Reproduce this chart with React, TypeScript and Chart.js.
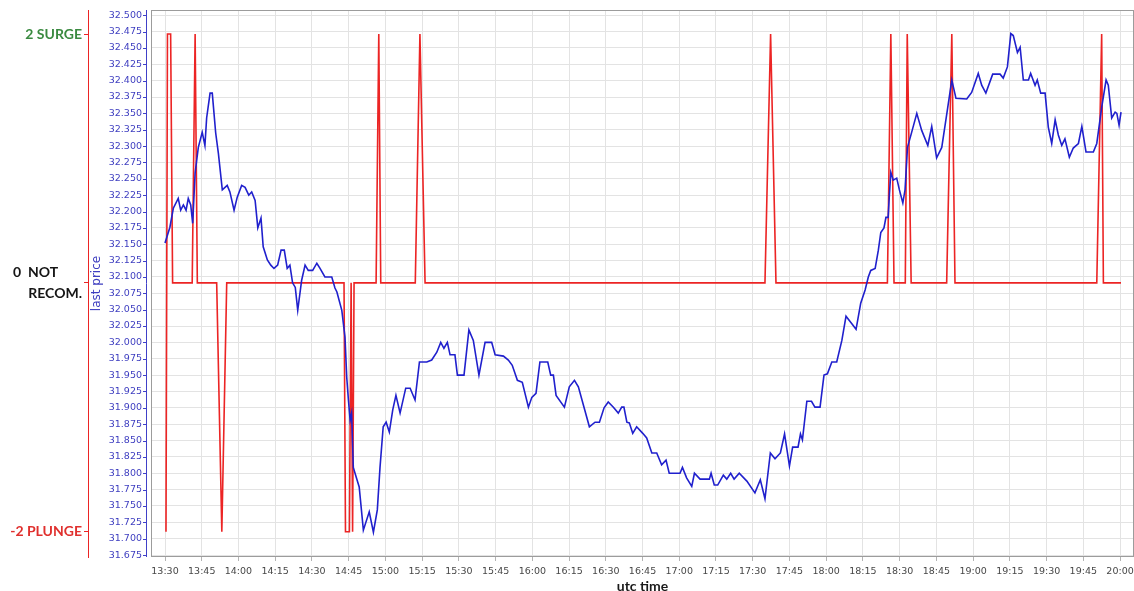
import React, { useEffect, useRef } from 'react';
import { Chart, registerables } from 'chart.js';

Chart.register(...registerables);

// minutes after 13:30 UTC
const blueMinutes = [
  0.0, 2.0, 3.4, 5.4, 6.4, 7.5, 8.6, 9.5, 10.5, 11.3,
  12.3, 13.6, 15.2, 16.3, 17.0, 18.4, 19.3, 20.7, 21.8, 23.4,
  25.4, 26.5, 28.2, 29.5, 31.3, 32.7, 34.2, 35.4, 36.8, 37.9,
  39.2, 40.1, 41.8, 43.2, 44.5, 46.0, 47.4, 48.7, 49.9, 51.0,
  52.1, 53.2, 54.2, 55.8, 57.2, 58.5, 60.3, 62.0, 63.3, 65.3,
  68.1, 69.4, 70.2, 72.2, 73.5, 74.2, 74.9, 75.6, 76.2, 76.9,
  77.6, 79.3, 81.0, 83.4, 85.1, 86.7, 87.8, 89.1, 90.3, 91.6,
  93.0, 94.3, 96.0, 98.3, 100.1, 102.1, 103.9, 106.9, 108.9, 111.0,
  112.6, 113.9, 115.3, 116.4, 118.4, 119.4, 122.1, 124.1, 125.9, 128.2,
  130.7, 133.4, 134.8, 138.2, 140.2, 141.8, 143.9, 145.9, 148.4, 149.8,
  151.5, 153.1, 156.3, 157.5, 158.6, 159.7, 163.1, 165.1, 167.2, 168.8,
  171.1, 173.3, 175.6, 177.4, 179.3, 181.0, 183.1, 185.1, 186.5, 187.4,
  188.6, 189.6, 191.0, 192.6, 195.1, 196.7, 198.8, 200.8, 202.8, 204.6,
  205.9, 210.3, 211.3, 213.0, 215.1, 216.2, 218.5, 222.3, 223.0, 224.3,
  225.7, 228.0, 229.4, 231.0, 232.4, 234.5, 237.6, 240.9, 243.1, 245.0,
  247.2, 249.1, 251.3, 253.0, 255.0, 256.3, 258.5, 259.5, 260.3, 262.1,
  264.0, 265.4, 267.5, 269.1, 270.5, 272.3, 274.3, 276.4, 278.1, 280.4,
  282.2, 284.1, 285.9, 287.2, 288.2, 290.0, 291.3, 292.3, 293.6, 294.4,
  295.3, 295.8, 296.4, 297.4, 298.8, 299.9, 301.3, 302.2, 303.2, 304.9,
  307.0, 309.0, 311.5, 313.1, 315.1, 317.2, 319.6, 321.3, 323.0, 327.4,
  329.4, 332.1, 333.5, 335.2, 338.0, 341.0, 342.3, 344.0, 345.4, 346.4,
  348.1, 349.2, 350.5, 352.6, 353.5, 355.3, 356.2, 357.6, 359.4, 360.7,
  362.1, 363.5, 364.8, 366.2, 367.5, 369.3, 370.9, 373.0, 374.4, 376.1,
  379.1, 380.5, 382.5, 384.3, 385.2, 386.6, 388.0, 388.7, 389.6, 390.4,
];

const bluePrices = [
  32.152, 32.176, 32.205, 32.220, 32.202, 32.210, 32.202, 32.220, 32.210, 32.182,
  32.259, 32.298, 32.321, 32.301, 32.343, 32.381, 32.381, 32.320, 32.289, 32.233,
  32.240, 32.230, 32.202, 32.222, 32.240, 32.237, 32.225, 32.230, 32.217, 32.175,
  32.190, 32.146, 32.126, 32.118, 32.113, 32.118, 32.141, 32.141, 32.113, 32.118,
  32.091, 32.084, 32.049, 32.095, 32.118, 32.110, 32.110, 32.121, 32.113, 32.100,
  32.100, 32.083, 32.077, 32.049, 32.008, 31.947, 31.912, 31.881, 31.892, 31.809,
  31.800, 31.779, 31.713, 31.741, 31.710, 31.744, 31.809, 31.871, 31.878, 31.863,
  31.897, 31.919, 31.892, 31.930, 31.930, 31.912, 31.970, 31.970, 31.973, 31.985,
  32.000, 31.991, 32.000, 31.981, 31.981, 31.950, 31.950, 32.019, 32.003, 31.950,
  32.000, 32.000, 31.981, 31.979, 31.973, 31.965, 31.942, 31.939, 31.901, 31.916,
  31.922, 31.970, 31.970, 31.950, 31.950, 31.919, 31.901, 31.932, 31.942, 31.932,
  31.901, 31.871, 31.878, 31.878, 31.900, 31.909, 31.901, 31.892, 31.901, 31.901,
  31.878, 31.877, 31.861, 31.871, 31.861, 31.854, 31.831, 31.831, 31.813, 31.820,
  31.800, 31.800, 31.809, 31.793, 31.780, 31.800, 31.791, 31.791, 31.800, 31.782,
  31.782, 31.797, 31.791, 31.800, 31.791, 31.800, 31.788, 31.770, 31.790, 31.761,
  31.831, 31.822, 31.831, 31.860, 31.811, 31.840, 31.840, 31.860, 31.851, 31.910,
  31.910, 31.901, 31.901, 31.950, 31.952, 31.970, 31.970, 32.003, 32.040, 32.029,
  32.020, 32.060, 32.080, 32.100, 32.110, 32.113, 32.141, 32.168, 32.175, 32.191,
  32.191, 32.225, 32.260, 32.248, 32.251, 32.233, 32.213, 32.233, 32.298, 32.321,
  32.350, 32.324, 32.301, 32.330, 32.282, 32.298, 32.358, 32.401, 32.373, 32.372,
  32.382, 32.411, 32.393, 32.381, 32.410, 32.410, 32.404, 32.421, 32.472, 32.469,
  32.443, 32.451, 32.401, 32.401, 32.411, 32.393, 32.401, 32.381, 32.381, 32.329,
  32.304, 32.340, 32.317, 32.301, 32.311, 32.283, 32.297, 32.304, 32.330, 32.291,
  32.291, 32.304, 32.359, 32.401, 32.393, 32.343, 32.352, 32.350, 32.332, 32.352,
];

const redMinutes = [
  0.4, 1.0, 2.3, 3.1, 11.1, 12.3, 13.2, 21.1, 23.2, 25.2,
  73.1, 73.7, 75.3, 76.0, 76.6, 77.2, 86.2, 87.3, 88.1, 102.2,
  104.1, 106.2, 245.0, 247.3, 249.5, 295.0, 296.4, 297.7, 302.3, 303.1,
  304.7, 319.2, 321.3, 322.6, 380.5, 382.5, 383.2, 390.4,
];

const redSignal = [
  -2, 2, 2, 0, 0, 2, 0, 0, -2, 0,
  0, -2, -2, 0, -2, 0, 0, 2, 0, 0,
  2, 0, 0, 2, 0, 0, 2, 0, 0, 2,
  0, 0, 2, 0, 0, 2, 0, 0,
];

const timeTicks = [
  0, 15, 30, 45, 60, 75, 90, 105, 120, 135, 150, 165, 180, 195,
  210, 225, 240, 255, 270, 285, 300, 315, 330, 345, 360, 375, 390,
];
const timeLabels = [
  '13:30', '13:45', '14:00', '14:15', '14:30', '14:45', '15:00', '15:15', '15:30',
  '15:45', '16:00', '16:15', '16:30', '16:45', '17:00', '17:15', '17:30', '17:45',
  '18:00', '18:15', '18:30', '18:45', '19:00', '19:15', '19:30', '19:45', '20:00',
];

const priceTicks = [
  31.675, 31.7, 31.725, 31.75, 31.775, 31.8, 31.825, 31.85, 31.875, 31.9,
  31.925, 31.95, 31.975, 32.0, 32.025, 32.05, 32.075, 32.1, 32.125, 32.15,
  32.175, 32.2, 32.225, 32.25, 32.275, 32.3, 32.325, 32.35, 32.375, 32.4,
  32.425, 32.45, 32.475, 32.5,
];

const signalTicks = [-2, 0, 2];
const signalLabels: (string | string[])[] = ['-2 PLUNGE', ['0  NOT       ', 'RECOM.'], '2 SURGE'];
const signalColors = ['#e0302e', '#151515', '#3a8a40'];

const BLUE = 'rgb(32,32,205)';
const RED = 'rgb(236,36,36)';

const framePlugin = {
  id: 'frame',
  afterDraw(chart: any) {
    const { ctx, chartArea: a, scales } = chart;
    ctx.save();
    ctx.strokeStyle = '#9c9c9c';
    ctx.lineWidth = 1;
    ctx.strokeRect(a.left + 0.5, a.top + 0.5, a.right - a.left - 1, a.bottom - a.top - 1);
    const ys = scales.y;
    const lx = a.left - 4.5;
    ctx.strokeStyle = '#4040c8';
    ctx.beginPath();
    ctx.moveTo(lx, a.top);
    ctx.lineTo(lx, a.bottom);
    ys.ticks.forEach((t: any) => {
      const py = Math.round(ys.getPixelForValue(t.value)) + 0.5;
      ctx.moveTo(lx - 3.5, py);
      ctx.lineTo(lx, py);
    });
    ctx.stroke();
    ctx.restore();
  },
};

export default function App() {
  const ref = useRef<HTMLCanvasElement>(null);

  useEffect(() => {
    document.body.style.margin = '0';
    const canvas = ref.current;
    if (!canvas) return;
    const chart = new Chart(canvas, {
      type: 'line',
      data: {
        datasets: [
          {
            label: 'last price',
            data: blueMinutes.map((m, i) => ({ x: m, y: bluePrices[i] })),
            yAxisID: 'y',
            borderColor: BLUE,
            borderWidth: 1.6,
            pointRadius: 0,
            tension: 0,
            order: 0,
          },
          {
            label: 'signal',
            data: redMinutes.map((m, i) => ({ x: m, y: redSignal[i] })),
            yAxisID: 'y2',
            borderColor: RED,
            borderWidth: 1.6,
            pointRadius: 0,
            tension: 0,
            order: 1,
          },
        ],
      },
      options: {
        animation: false,
        responsive: false,
        devicePixelRatio: 1,
        layout: { padding: { top: 10, right: 0, bottom: 0, left: 0 } },
        plugins: { legend: { display: false }, tooltip: { enabled: false } },
        scales: {
          x: {
            type: 'linear',
            min: -5.72,
            max: 395.7,
            afterBuildTicks: (s: any) => {
              s.ticks = timeTicks.map((v) => ({ value: v }));
            },
            afterFit: (s: any) => {
              s.height = 34;
              s.paddingLeft = 0;
              s.paddingRight = 0;
            },
            ticks: {
              autoSkip: false,
              maxRotation: 0,
              padding: 5,
              color: '#474747',
              font: { family: 'DejaVu Sans', size: 9.5 },
              callback: (v: any) => timeLabels[timeTicks.indexOf(Number(v))] ?? '',
            },
            grid: { color: '#e3e3e3', tickColor: '#b4b4b4', tickLength: 4 },
            border: { display: false },
            title: {
              display: true,
              text: 'utc time',
              color: '#1a1a1a',
              font: { family: 'Lato', size: 14, weight: 'bold', lineHeight: 1 },
              padding: { top: 0, bottom: -2 },
            },
          },
          y: {
            type: 'linear',
            position: 'left',
            weight: 0,
            min: 31.672,
            max: 32.508,
            afterBuildTicks: (s: any) => {
              s.ticks = priceTicks.map((v) => ({ value: v }));
            },
            afterFit: (s: any) => {
              s.width = 63;
              s.paddingTop = 0;
              s.paddingBottom = 0;
            },
            ticks: {
              padding: 9,
              color: '#3e3ec0',
              font: { family: 'DejaVu Sans', size: 9.5 },
              callback: (v: any) => Number(v).toFixed(3),
            },
            grid: { color: '#e3e3e3', drawTicks: false },
            border: { display: false },
            title: {
              display: true,
              text: 'last price',
              color: '#3e3ec0',
              font: { family: 'DejaVu Sans', size: 12 },
              padding: { top: 2, bottom: 0 },
            },
          },
          y2: {
            type: 'linear',
            position: 'left',
            weight: 10,
            min: -2.203,
            max: 2.193,
            afterBuildTicks: (s: any) => {
              s.ticks = signalTicks.map((v) => ({ value: v }));
            },
            afterFit: (s: any) => {
              s.width = 88;
              s.paddingTop = 0;
              s.paddingBottom = 0;
            },
            ticks: {
              padding: 2,
              color: (c: any) => signalColors[signalTicks.indexOf(c.tick?.value)] ?? '#151515',
              font: { family: 'Lato', size: 14, weight: 'bold', lineHeight: 1.45 },
              callback: (v: any) => signalLabels[signalTicks.indexOf(Number(v))] ?? '',
            },
            grid: { drawOnChartArea: false, tickColor: RED, tickLength: 4 },
            border: { display: true, color: RED, width: 1 },
          },
        },
      },
      plugins: [framePlugin],
    } as any);
    return () => chart.destroy();
  }, []);

  return (
    <div style={{ width: 1134, height: 591, position: 'relative', background: '#fff' }}>
      <canvas ref={ref} width={1134} height={591} style={{ display: 'block' }} />
    </div>
  );
}
